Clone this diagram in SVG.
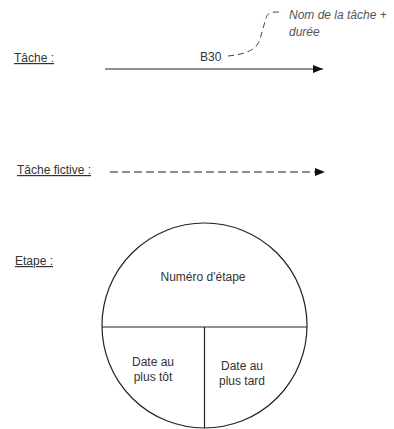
<svg xmlns="http://www.w3.org/2000/svg" width="394" height="429" viewBox="0 0 394 429">
<style>
text{font-family:"Liberation Sans",Arial,sans-serif;font-size:12px;fill:#333}
.lbl{text-decoration:underline}
.note{font-style:italic;fill:#555}
.mid{text-anchor:middle}
.ln{stroke:#222;stroke-width:1.2;fill:none}
</style>
<defs>
<marker id="ah" markerWidth="10" markerHeight="8" refX="10" refY="4" orient="auto" markerUnits="userSpaceOnUse">
<path d="M0,0 L10,4 L0,8 Z" fill="#111"/>
</marker>
</defs>
<g id="labels">
<text class="lbl" x="14" y="62">Tâche :</text>
<text class="lbl" x="17" y="174">Tâche fictive :</text>
<text class="lbl" x="15" y="265">Etape :</text>
</g>
<g id="connectors">
<line class="ln" x1="105" y1="69" x2="323" y2="69" marker-end="url(#ah)"/>
<line class="ln" x1="110" y1="172" x2="325" y2="172" stroke-dasharray="8,4" marker-end="url(#ah)"/>
<path d="M228,56 C248,54 257,49 260,39 L266,18 C267,14 270,12 276,12 L283,12" fill="none" stroke="#444" stroke-width="1" stroke-dasharray="6,4"/>
</g>
<g id="task-label">
<text x="200" y="61">B30</text>
<text class="note" x="289" y="19">Nom de la tâche +</text>
<text class="note" x="289" y="36">durée</text>
</g>
<g id="etape">
<circle class="ln" cx="204.5" cy="325.5" r="102.5"/>
<line class="ln" x1="102" y1="327" x2="307" y2="327"/>
<line class="ln" x1="204.5" y1="327" x2="204.5" y2="428"/>
<text class="mid" x="203" y="281">Numéro d'étape</text>
<text class="mid" x="153" y="366">Date au</text>
<text class="mid" x="153" y="381">plus tôt</text>
<text class="mid" x="242" y="370">Date au</text>
<text class="mid" x="242" y="385">plus tard</text>
</g>
</svg>
